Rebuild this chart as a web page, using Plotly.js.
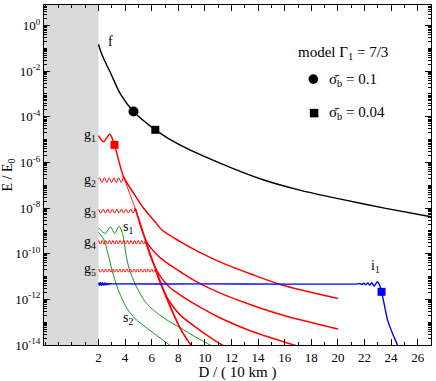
<!DOCTYPE html>
<html><head><meta charset="utf-8">
<script src="https://cdn.plot.ly/plotly-3.0.1.min.js"></script>
<style>html,body{margin:0;padding:0;background:#fff}#chart{width:436px;height:381px}</style>
</head><body><div id="chart"></div>
<script>
// ---- data (y given as log10(E/E0)) ----
const fX   = [2.0, 2.13, 2.4, 2.88, 3.63, 4.63, 6.27, 8.0, 11.17, 14.43, 17.05, 20.2, 23.5, 27.0];
const fLog = [-0.82, -1.07, -1.47, -2.05, -2.98, -3.77, -4.57, -5.2, -6.04, -6.77, -7.2, -7.61, -8.0, -8.38];

const g1X   = [2.0, 2.37, 2.85, 3.2, 3.88, 4.64, 5.39, 6.14, 6.77, 8.15, 9.5, 11.2, 13.5, 15.8, 20.0];
const g1Log = [-4.82, -5.09, -4.76, -5.23, -6.62, -7.35, -8.01, -8.52, -8.96, -9.47, -9.91, -10.38, -10.9, -11.37, -11.96];

const g2PlatX   = [2.0, 2.08, 2.26, 2.44, 2.62, 2.80, 2.98, 3.16, 3.34, 3.52, 3.70, 3.88];
const g2PlatLog = [-6.72, -6.67, -6.88, -6.67, -6.88, -6.67, -6.88, -6.67, -6.88, -6.67, -6.88, -6.62];
const g2SteepX   = [3.88, 4.3, 4.76, 5.15, 5.52, 5.9, 6.27, 6.65, 7.4, 8.15, 8.9, 9.3];
const g2SteepLog = [-6.62, -7.3, -8.01, -8.72, -9.44, -10.08, -10.68, -11.3, -12.38, -13.32, -14.0, -14.3];

const g3PlatX   = [2.0, 2.17, 2.35, 2.52, 2.69, 2.86, 3.04, 3.21, 3.38, 3.55, 3.73, 3.90, 4.07, 4.24, 4.42, 4.59, 4.76];
const g3PlatLog = [-8.05, -8.22, -8.05, -8.22, -8.05, -8.22, -8.05, -8.22, -8.05, -8.22, -8.05, -8.22, -8.05, -8.22, -8.05, -8.22, -8.01];
const g3SteepX   = [4.76, 5.17, 5.56, 5.95, 6.32, 6.71, 7.47, 8.22, 8.97, 9.4];
const g3SteepLog = [-8.01, -8.7, -9.42, -10.08, -10.68, -11.3, -12.38, -13.32, -14.0, -14.3];
const t2X   = [4.76, 5.2, 5.64, 6.5, 7.3, 8.15, 9.28, 11.2, 13.5, 16.0, 20.0];
const t2Log = [-8.01, -8.85, -9.5, -10.1, -10.47, -10.79, -11.2, -11.74, -12.25, -12.72, -13.3];

const g4PlatX   = [2.0, 2.14, 2.27, 2.41, 2.54, 2.68, 2.81, 2.95, 3.08, 3.22, 3.35, 3.49, 3.62, 3.76, 3.90, 4.03, 4.17, 4.30, 4.44, 4.57, 4.71, 4.84, 4.98, 5.11, 5.25, 5.38, 5.52];
const g4PlatLog = [-9.42, -9.58, -9.42, -9.58, -9.42, -9.58, -9.42, -9.58, -9.42, -9.58, -9.42, -9.58, -9.42, -9.58, -9.42, -9.58, -9.42, -9.58, -9.42, -9.58, -9.42, -9.58, -9.42, -9.58, -9.42, -9.58, -9.44];
const g4SteepX   = [5.52, 5.94, 6.31, 6.69, 7.44, 8.19, 8.94, 9.35];
const g4SteepLog = [-9.44, -10.1, -10.68, -11.3, -12.38, -13.32, -14.0, -14.3];
const t3X   = [5.52, 6.0, 6.6, 7.3, 8.15, 9.5, 11.2, 13.5, 16.7, 17.5];
const t3Log = [-9.44, -10.25, -10.95, -11.45, -11.81, -12.3, -12.83, -13.4, -14.0, -14.15];

const g5PlatX   = [2.0, 2.13, 2.27, 2.40, 2.53, 2.67, 2.80, 2.93, 3.07, 3.20, 3.33, 3.47, 3.60, 3.73, 3.87, 4.00, 4.13, 4.27, 4.40, 4.53, 4.67, 4.80, 4.93, 5.07, 5.20, 5.33, 5.47, 5.60, 5.73, 5.87, 6.00, 6.13, 6.27];
const g5PlatLog = [-10.67, -10.81, -10.67, -10.81, -10.67, -10.81, -10.67, -10.81, -10.67, -10.81, -10.67, -10.81, -10.67, -10.81, -10.67, -10.81, -10.67, -10.81, -10.67, -10.81, -10.67, -10.81, -10.67, -10.81, -10.67, -10.81, -10.67, -10.81, -10.67, -10.81, -10.67, -10.81, -10.68];
const g5SteepX   = [6.27, 6.7, 7.45, 8.2, 8.95, 9.4];
const g5SteepLog = [-10.68, -11.3, -12.38, -13.32, -14.0, -14.3];
const t4X   = [6.27, 6.8, 7.4, 8.15, 9.5, 11.3, 11.8];
const t4Log = [-10.68, -11.5, -12.15, -12.69, -13.3, -14.0, -14.15];

const s1X   = [2.0, 2.5, 2.9, 3.2, 3.55, 3.8, 3.95, 4.1, 4.3, 4.55, 4.9, 5.5, 6.2, 7.0, 8.15, 9.3, 10.4, 10.8];
const s1Log = [-8.86, -9.11, -8.82, -9.11, -8.8, -9.1, -9.6, -10.15, -10.65, -11.05, -11.5, -12.1, -12.5, -12.85, -13.25, -13.65, -14.0, -14.12];
const s2X   = [2.0, 2.37, 2.7, 3.05, 3.4, 3.75, 4.13, 4.76, 5.5, 6.3, 7.35, 7.7];
const s2Log = [-9.06, -9.35, -9.98, -10.8, -11.45, -11.95, -12.39, -12.85, -13.2, -13.55, -14.0, -14.15];

const i1X   = [2.0, 2.07, 2.14, 2.21, 2.28, 2.35, 2.42, 2.49, 2.56, 2.63, 2.70, 2.78, 2.86, 3.0, 10.0, 21.5, 21.65, 21.8, 21.95, 22.1, 22.25, 22.4, 22.55, 22.72, 22.97, 23.12, 23.28, 23.47, 23.73, 24.1, 24.48, 24.7];
const i1Log = [-11.27, -11.40, -11.26, -11.39, -11.27, -11.38, -11.28, -11.37, -11.29, -11.36, -11.30, -11.35, -11.31, -11.32, -11.32, -11.32, -11.30, -11.35, -11.29, -11.36, -11.28, -11.38, -11.27, -11.42, -11.23, -11.36, -11.67, -12.18, -12.9, -13.49, -14.0, -14.3];

// symbols (sigma_b = 0.1 circle, sigma_b = 0.04 square)
const circX = [4.63],  circLog = [-3.77];
const sqX   = [6.27],  sqLog   = [-4.57];
const redSqX = [3.2],  redSqLog = [-5.23];
const bluSqX = [23.28], bluSqLog = [-11.67];

const xTickVals = [2, 4, 6, 8, 10, 12, 14, 16, 18, 20, 22, 24, 26];
const xTickText = ['2','4','6','8','10','12','14','16','18','20','22','24','26'];
const yTickVals = [1, 1e-2, 1e-4, 1e-6, 1e-8, 1e-10, 1e-12, 1e-14];
const yTickText = ['10<sup>0</sup>','10<sup>-2</sup>','10<sup>-4</sup>','10<sup>-6</sup>','10<sup>-8</sup>','10<sup>-10</sup>','10<sup>-12</sup>','10<sup>-14</sup>'];

// ---- build ----
const E = a => a.map(v => Math.pow(10, v));
const RED = 'rgb(255,0,0)', BLUE = 'rgb(0,0,255)', GREEN = 'rgb(20,150,20)';
function line(x, lg, color, w, sm) {
  return {x: x, y: E(lg), mode: 'lines', type: 'scatter', hoverinfo: 'skip',
          line: {color: color, width: w, shape: 'spline', smoothing: sm === undefined ? 0.8 : sm}};
}
function mark(x, lg, color, sym, size) {
  return {x: x, y: E(lg), mode: 'markers', type: 'scatter', hoverinfo: 'skip',
          marker: {color: color, symbol: sym, size: size, line: {width: 0}}};
}
const traces = [
  line(s1X, s1Log, GREEN, 1),
  line(s2X, s2Log, GREEN, 1),
  line(g2PlatX, g2PlatLog, RED, 1, 1),
  line(g3PlatX, g3PlatLog, RED, 1, 1),
  line(g4PlatX, g4PlatLog, RED, 1, 1),
  line(g5PlatX, g5PlatLog, RED, 1, 1),
  line(g2SteepX, g2SteepLog, RED, 0.9),
  line(g3SteepX, g3SteepLog, RED, 0.9),
  line(g4SteepX, g4SteepLog, RED, 0.9),
  line(g5SteepX, g5SteepLog, RED, 0.9),
  line(t2X, t2Log, RED, 1.5),
  line(t3X, t3Log, RED, 1.5),
  line(t4X, t4Log, RED, 1.5),
  line(g1X, g1Log, RED, 1.5),
  line(i1X, i1Log, BLUE, 1.4, 0.6),
  line(fX, fLog, 'black', 1.4),
  mark(circX, circLog, 'black', 'circle', 10),
  mark(sqX, sqLog, 'black', 'square', 8),
  mark(redSqX, redSqLog, RED, 'square', 8),
  mark(bluSqX, bluSqLog, BLUE, 'square', 8)
];

const FONT = 'Liberation Serif';
const ann = (x, y, text, opts) => Object.assign({x: x, y: y, text: text, showarrow: false,
  font: {family: FONT, size: 14, color: 'black'}}, opts || {});
const annotations = [
  ann(2.88, -0.72, 'f'),
  ann(1.95, -4.84, 'g<sub>1</sub>', {xanchor: 'right'}),
  ann(1.95, -6.77, 'g<sub>2</sub>', {xanchor: 'right'}),
  ann(1.95, -8.13, 'g<sub>3</sub>', {xanchor: 'right'}),
  ann(1.95, -9.5,  'g<sub>4</sub>', {xanchor: 'right'}),
  ann(1.95, -10.7, 'g<sub>5</sub>', {xanchor: 'right'}),
  ann(4.2, -8.85, 's<sub>1</sub>'),
  ann(4.25, -12.85, 's<sub>2</sub>'),
  ann(22.85, -10.55, 'i<sub>1</sub>'),
  {xref: 'paper', yref: 'paper', x: 0.651, y: 0.859, xanchor: 'left', yanchor: 'middle', showarrow: false,
   text: 'model \u0393<sub>1</sub> = 7/3', font: {family: FONT, size: 15, color: 'black'}},
  {xref: 'paper', yref: 'paper', x: 0.730, y: 0.78, xanchor: 'left', yanchor: 'middle', showarrow: false,
   text: '\u03C3\u0304<sub>b</sub> = 0.1', font: {family: FONT, size: 15, color: 'black'}},
  {xref: 'paper', yref: 'paper', x: 0.730, y: 0.682, xanchor: 'left', yanchor: 'middle', showarrow: false,
   text: '\u03C3\u0304<sub>b</sub> = 0.04', font: {family: FONT, size: 15, color: 'black'}}
];

const shapes = [
  {type: 'rect', xref: 'x', yref: 'paper', x0: -2.1, x1: 2, y0: 0, y1: 1, layer: 'below',
   fillcolor: '#d9d9d9', line: {width: 0}},
  {type: 'circle', xref: 'paper', yref: 'paper', x0: 0.696 - 0.0125, x1: 0.696 + 0.0125,
   y0: 0.782 - 0.0142, y1: 0.782 + 0.0142, fillcolor: 'black', line: {width: 0}},
  {type: 'rect', xref: 'paper', yref: 'paper', x0: 0.698 - 0.011, x1: 0.698 + 0.011,
   y0: 0.682 - 0.0125, y1: 0.682 + 0.0125, fillcolor: 'black', line: {width: 0}}
];

const layout = {
  width: 436, height: 381,
  margin: {l: 44, r: 5, t: 5, b: 36},
  paper_bgcolor: 'white', plot_bgcolor: 'white',
  showlegend: false,
  font: {family: FONT, size: 13, color: 'black'},
  xaxis: {
    range: [-2.1, 27], tickmode: 'array', tickvals: xTickVals, ticktext: xTickText,
    ticks: 'inside', ticklen: 6, tickcolor: 'black', tickwidth: 1,
    minor: {tickmode: 'linear', tick0: 0, dtick: 1, ticks: 'inside', ticklen: 3, tickcolor: 'black'},
    showline: true, linecolor: 'black', linewidth: 1, mirror: 'ticks',
    showgrid: false, zeroline: false,
    tickfont: {family: FONT, size: 13},
    title: {text: 'D / ( 10 km )', font: {family: FONT, size: 15}, standoff: 2}
  },
  yaxis: {
    type: 'log', range: [-14, 0.9], tickmode: 'array', tickvals: yTickVals, ticktext: yTickText,
    ticks: 'inside', ticklen: 6, tickcolor: 'black', tickwidth: 1,
    minor: {dtick: 'D1', ticks: 'inside', ticklen: 3, tickcolor: 'black'},
    showline: true, linecolor: 'black', linewidth: 1, mirror: 'ticks',
    showgrid: false, zeroline: false,
    tickfont: {family: FONT, size: 13},
    title: {text: 'E / E<sub>0</sub>', font: {family: FONT, size: 14}, standoff: 2}
  },
  annotations: annotations,
  shapes: shapes
};
Plotly.newPlot('chart', traces, layout, {displayModeBar: false});
</script></body></html>
